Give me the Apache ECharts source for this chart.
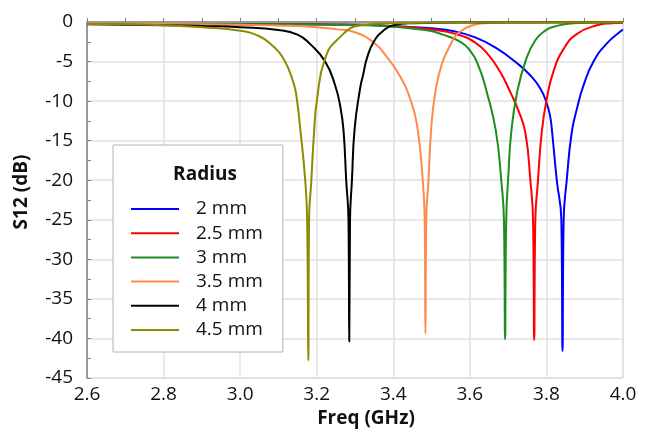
<!DOCTYPE html>
<html>
<head>
<meta charset="utf-8">
<script src="https://cdn.jsdelivr.net/npm/echarts@6/dist/echarts.min.js"></script>
<style>
  html, body { margin: 0; padding: 0; background: #fff; }
  #chart { width: 647px; height: 434px; }
</style>
</head>
<body>
<div id="chart"></div>
<script>
// S12 transmission notches for ring radii 2 mm ... 4.5 mm
const seriesNames = ['2 mm', '2.5 mm', '3 mm', '3.5 mm', '4 mm', '4.5 mm'];
const seriesColors = ['#0000ff', '#ff0000', '#1e8c1e', '#ff8a4c', '#000000', '#8c8c00'];

const freq2mm = [2.6, 2.8, 3.0, 3.2, 3.315, 3.4, 3.5, 3.562, 3.614, 3.666, 3.718, 3.757, 3.784, 3.801, 3.810, 3.815, 3.827, 3.839, 3.842, 3.845, 3.853, 3.866, 3.880, 3.897, 3.923, 3.958, 3.997, 4.0];
const s12_2mm  = [-0.25, -0.25, -0.28, -0.3, -0.35, -0.55, -0.8, -1.2, -1.95, -3.2, -5.0, -6.7, -8.4, -10.3, -12.0, -14, -20, -25, -41.6, -25, -20, -14, -10.9, -8.0, -5.0, -2.7, -1.05, -0.95];

const freq2p5mm = [2.6, 2.8, 3.0, 3.2, 3.315, 3.43, 3.5, 3.562, 3.614, 3.649, 3.679, 3.705, 3.727, 3.745, 3.758, 3.765, 3.768, 3.771, 3.778, 3.788, 3.801, 3.818, 3.845, 3.880, 3.932, 3.97, 4.0];
const s12_2p5mm  = [-0.25, -0.25, -0.27, -0.3, -0.35, -0.6, -0.95, -1.5, -2.6, -4.2, -6.3, -8.8, -11.2, -14, -20, -25, -40.2, -25, -20, -13.8, -9.7, -6.3, -3.4, -1.5, -0.42, -0.15, -0.08];

const freq3mm = [2.6, 2.8, 3.0, 3.2, 3.315, 3.4, 3.488, 3.53, 3.575, 3.597, 3.623, 3.645, 3.668, 3.682, 3.689, 3.692, 3.695, 3.701, 3.708, 3.723, 3.745, 3.771, 3.80, 3.819, 3.87, 3.95, 4.0];
const s12_3mm  = [-0.25, -0.25, -0.28, -0.32, -0.4, -0.6, -1.05, -1.6, -2.5, -3.4, -5.6, -9.0, -13.8, -20, -25, -40.1, -25, -19, -14, -9.0, -5.0, -2.3, -1.0, -0.6, -0.15, -0.05, -0.02];

const freq3p5mm = [2.6, 2.8, 3.0, 3.1, 3.2, 3.25, 3.3, 3.349, 3.383, 3.418, 3.444, 3.462, 3.477, 3.482, 3.484, 3.486, 3.492, 3.499, 3.51, 3.527, 3.549, 3.562, 3.575, 3.605, 3.64, 3.7, 4.0];
const s12_3p5mm  = [-0.2, -0.25, -0.35, -0.45, -0.65, -0.9, -1.3, -2.6, -4.4, -6.9, -9.7, -13.0, -20, -25, -39.4, -25, -20, -13.5, -8.8, -5.3, -2.9, -1.8, -1.2, -0.45, -0.15, -0.05, -0.02];

const freq4mm = [2.6, 2.8, 2.9, 3.0, 3.1, 3.15, 3.183, 3.222, 3.248, 3.262, 3.270, 3.277, 3.283, 3.285, 3.287, 3.292, 3.299, 3.313, 3.322, 3.331, 3.349, 3.375, 3.40, 3.45, 3.6, 4.0];
const s12_4mm  = [-0.3, -0.4, -0.5, -0.65, -1.0, -1.6, -2.8, -5.0, -8.0, -10.8, -13.7, -20, -25, -40.4, -25, -20, -13.5, -8.5, -6.5, -4.6, -2.5, -1.05, -0.4, -0.15, -0.05, -0.02];

const freq4p5mm = [2.6, 2.7, 2.8, 2.9, 3.0, 3.05, 3.08, 3.113, 3.14, 3.148, 3.157, 3.170, 3.175, 3.178, 3.180, 3.186, 3.193, 3.201, 3.222, 3.257, 3.314, 3.40, 3.6, 4.0];
const s12_4p5mm  = [-0.25, -0.3, -0.4, -0.65, -1.1, -1.8, -2.8, -4.6, -7.8, -9.7, -13.5, -20, -25, -42.8, -25, -20, -14, -9.7, -4.6, -2.1, -0.42, -0.15, -0.05, -0.02];

const freqLists = [freq2mm, freq2p5mm, freq3mm, freq3p5mm, freq4mm, freq4p5mm];
const s12Lists = [s12_2mm, s12_2p5mm, s12_3mm, s12_3p5mm, s12_4mm, s12_4p5mm];

const fontFamily = '"Open Sans", "Noto Sans", sans-serif';

const series = seriesNames.map((name, i) => ({
  name: name,
  type: 'line',
  data: freqLists[i].map((f, k) => [f, s12Lists[i][k]]),
  symbol: 'none',
  showSymbol: false,
  smooth: 0.5,
  lineStyle: { color: seriesColors[i], width: 2 },
  itemStyle: { color: seriesColors[i] },
  z: 2 + i
}));

const chart = echarts.init(document.getElementById('chart'), null, { renderer: 'canvas' });
chart.setOption({
  animation: false,
  backgroundColor: '#ffffff',
  grid: {
    left: 87, right: 24, top: 22, bottom: 56,
    show: true, borderColor: '#c8c8c8', borderWidth: 1
  },
  title: {
    text: 'Radius',
    left: 200, top: 160, textAlign: 'center',
    textStyle: { fontFamily: fontFamily, fontSize: 19, fontWeight: 'bold', color: '#111' },
    z: 10
  },
  legend: {
    data: seriesNames,
    orient: 'vertical',
    left: 113, top: 145,
    padding: [54, 20, 12, 17],
    itemWidth: 48, itemHeight: 14, itemGap: 4.2,
    itemStyle: { opacity: 0 },
    backgroundColor: '#ffffff',
    borderColor: '#b4b4b4', borderWidth: 1,
    textStyle: { fontFamily: fontFamily, fontSize: 19, color: '#111', lineHeight: 20, padding: [0, 0, 0, 12] },
    selectedMode: false
  },
  xAxis: {
    type: 'value',
    min: 2.6, max: 4.0, interval: 0.2,
    name: 'Freq (GHz)',
    nameLocation: 'middle', nameGap: 30,
    nameTextStyle: { fontFamily: fontFamily, fontSize: 19, fontWeight: 'bold', color: '#111', padding: [0, 0, 0, 22] },
    axisLine: { show: true, lineStyle: { color: '#808080', width: 1.5 } },
    axisTick: { show: true, inside: true, length: 4, lineStyle: { color: '#808080' } },
    minorTick: { show: true, splitNumber: 2, length: 4, lineStyle: { color: '#808080' } },
    axisLabel: { fontFamily: fontFamily, fontSize: 19, color: '#111', margin: 7,
      formatter: v => v.toFixed(1) },
    splitLine: { show: true, lineStyle: { color: '#e2e2e2', width: 1.5 } }
  },
  yAxis: {
    type: 'value',
    min: -45, max: 0, interval: 5,
    name: 'S12 (dB)',
    nameLocation: 'middle', nameGap: 56,
    nameTextStyle: { fontFamily: fontFamily, fontSize: 19, fontWeight: 'bold', color: '#111', padding: [0, 0, 0, 16] },
    axisLine: { show: true, lineStyle: { color: '#808080', width: 1.5 } },
    axisTick: { show: true, inside: true, length: 4, lineStyle: { color: '#808080' } },
    minorTick: { show: true, splitNumber: 2, length: 4, lineStyle: { color: '#808080' } },
    axisLabel: { fontFamily: fontFamily, fontSize: 19, color: '#111', margin: 14 },
    splitLine: { show: true, lineStyle: { color: '#e2e2e2', width: 1.5 } }
  },
  series: series
});
</script>
</body>
</html>
